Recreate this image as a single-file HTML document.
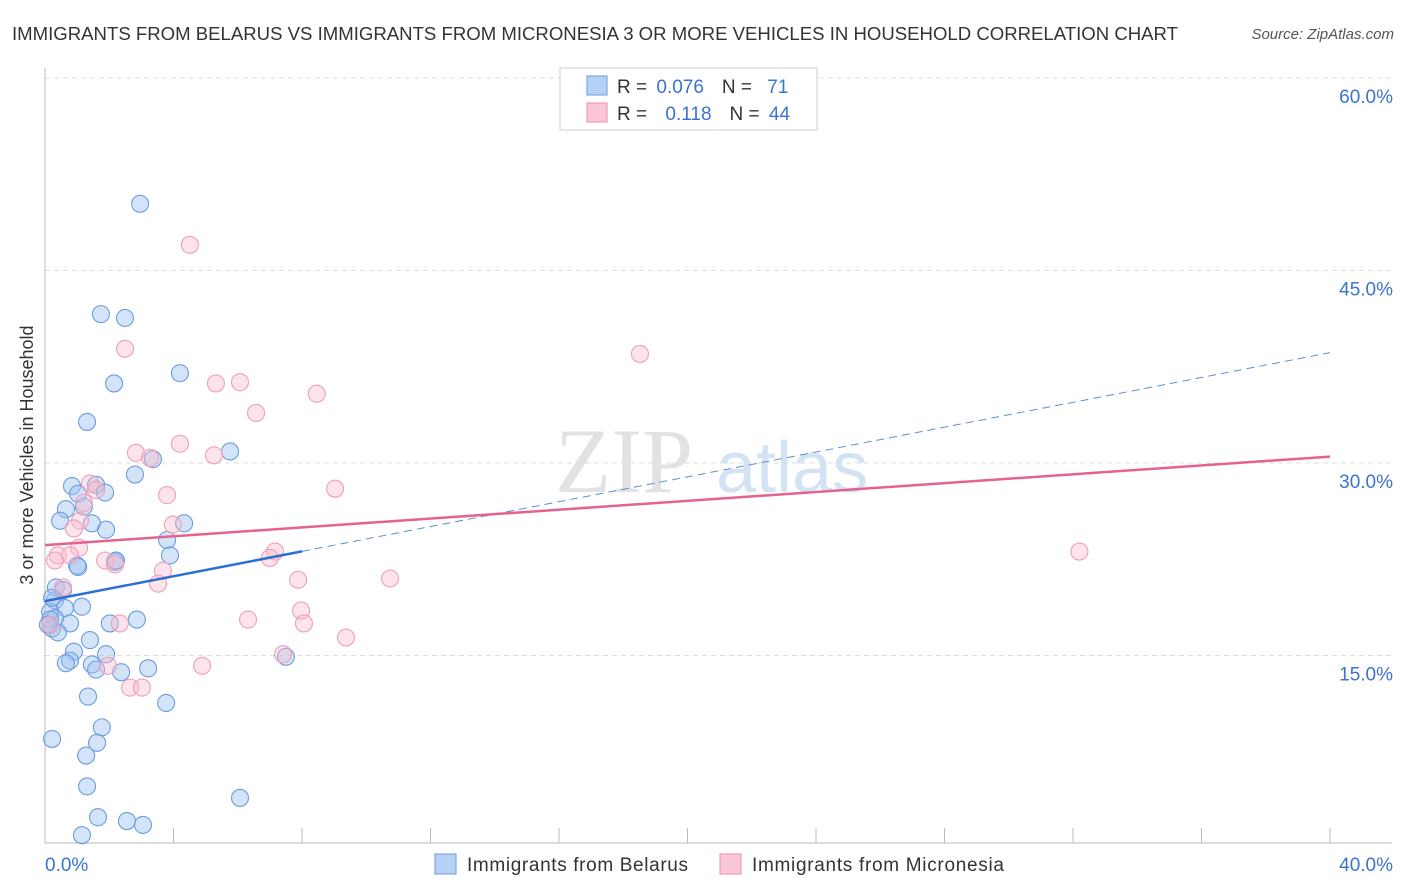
<!DOCTYPE html>
<html><head><meta charset="utf-8">
<style>
body{margin:0;background:#fff;font-family:"Liberation Sans",sans-serif;}
#wrap{position:relative;width:1406px;height:892px;overflow:hidden;}
</style></head>
<body>
<div id="wrap">
<svg id="svg" width="1406" height="892" xmlns="http://www.w3.org/2000/svg">
<text x="12" y="40" font-size="18" fill="#333" textLength="1166" lengthAdjust="spacingAndGlyphs">IMMIGRANTS FROM BELARUS VS IMMIGRANTS FROM MICRONESIA 3 OR MORE VEHICLES IN HOUSEHOLD CORRELATION CHART</text>
<text x="1394" y="39" font-size="15" fill="#555" font-style="italic" text-anchor="end">Source: ZipAtlas.com</text>
<text transform="translate(33,455) rotate(-90)" font-size="18" fill="#333" text-anchor="middle">3 or more Vehicles in Household</text>
<g>
<text x="555" y="492" font-size="92" fill="#e2e2e2" font-family="Liberation Serif,serif">ZIP</text>
<text x="716" y="492" font-size="72" fill="#d4e3f3">atlas</text>
</g>
<g id="grid"></g>
<g id="axes"></g>
<g id="pts"></g>
<g id="lines"></g>
<g>
<rect x="560" y="68" width="257" height="62" fill="#fff" stroke="#ccc"/>
<rect x="587" y="76" width="20" height="19" fill="#b6d1f5" stroke="#6a9de0"/>
<rect x="587" y="103" width="20" height="19" fill="#fbc7d6" stroke="#ea8fab"/>
<text x="617" y="93" font-size="19" fill="#333">R = <tspan fill="#3b73d1" dx="4">0.076</tspan><tspan fill="#333" dx="18">N = </tspan><tspan fill="#3b73d1" dx="10">71</tspan></text>
<text x="617" y="120" font-size="19" fill="#333">R = <tspan fill="#3b73d1" dx="13">0.118</tspan><tspan fill="#333" dx="18">N = </tspan><tspan fill="#3b73d1" dx="4">44</tspan></text>
</g>
<g>
<rect x="435" y="854" width="21" height="20" fill="#b6d1f5" stroke="#6a9de0"/>
<text x="467" y="871" font-size="19" fill="#333" textLength="221">Immigrants from Belarus</text>
<rect x="720" y="854" width="21" height="20" fill="#fbc7d6" stroke="#ea8fab"/>
<text x="752" y="871" font-size="19" fill="#333" textLength="252">Immigrants from Micronesia</text>
</g>
</svg>
</div>
<script>
const yTicks=[15,30,45,60];
const xTickLabels=["0.0%","40.0%"];
const belarusX=[2.96,1.74,2.49,2.15,4.20,1.31,5.76,3.36,2.80,0.84,1.59,1.87,1.03,1.21,0.65,0.47,1.46,1.90,4.33,3.80,3.89,1.00,2.18,1.03,0.34,0.56,0.31,1.15,0.62,0.16,0.31,2.86,2.02,0.78,0.22,0.40,1.40,3.21,0.90,1.90,0.78,0.65,1.46,1.59,2.37,7.50,1.34,3.77,1.77,0.22,1.62,1.28,1.31,6.07,1.65,2.55,3.05,1.15,2.21,0.16,0.09,0.22];
const belarusY=[50.2,41.6,41.3,36.2,37.0,33.2,30.9,30.3,29.1,28.2,28.3,27.7,27.6,26.6,26.4,25.5,25.3,24.8,25.3,24.0,22.8,22.0,22.3,21.9,20.3,20.1,19.3,18.8,18.7,18.4,17.9,17.8,17.5,17.5,17.1,16.8,16.2,14.0,15.3,15.1,14.6,14.4,14.3,13.9,13.7,14.9,11.8,11.3,9.4,8.5,8.2,7.2,4.8,3.9,2.4,2.1,1.8,1.0,22.4,17.8,17.4,19.5];
const microX=[4.51,2.49,18.52,5.32,6.07,8.46,6.57,4.20,2.83,3.27,5.26,9.03,1.40,1.59,3.80,1.21,1.09,0.90,3.98,1.06,32.2,7.16,7.00,0.40,0.78,0.31,1.87,2.18,3.67,10.74,7.88,3.52,0.56,7.97,8.06,6.32,2.33,9.37,7.41,4.89,1.96,2.65,3.02,0.16];
const microY=[47.0,38.9,38.5,36.2,36.3,35.4,33.9,31.5,30.8,30.4,30.6,28.0,28.4,27.9,27.5,26.9,25.5,24.9,25.2,23.4,23.1,23.1,22.6,22.8,22.8,22.4,22.4,22.1,21.6,21.0,20.9,20.6,20.3,18.5,17.5,17.8,17.5,16.4,15.1,14.2,14.2,12.5,12.5,17.4];
const belarusTrend=[19.24,38.6];
const microTrend=[23.6,30.5];
const NS="http://www.w3.org/2000/svg";
const X=v=>45+v/40*1285;
const Y=v=>848-v/15*192.5;
function mk(tag,attrs,parent){const e=document.createElementNS(NS,tag);for(const k in attrs)e.setAttribute(k,attrs[k]);document.getElementById(parent).appendChild(e);return e;}
yTicks.forEach(t=>{
  const l=mk('line',{x1:45,x2:1392,y1:Y(t),y2:Y(t),stroke:'#ddd','stroke-dasharray':'5,4'},'grid');
  
  
  const tx=mk('text',{x:1393,y:Y(t)+25,'font-size':19,fill:'#3b73d1','text-anchor':'end'},'grid');
  tx.textContent=t.toFixed(1)+'%';
  
  
});
const ax=mk('line',{x1:45,x2:45,y1:68,y2:843,stroke:'#bbb'},'axes');


const bx=mk('line',{x1:45,x2:1392,y1:843,y2:843,stroke:'#bbb'},'axes');


for(let i=0;i<=10;i++){
  const t=mk('line',{x1:X(i*4),x2:X(i*4),y1:828,y2:843,stroke:'#bbb'},'axes');
  
  
}
[[0,'start',45],[40,'end',1393]].forEach((d,i)=>{
  const tx=mk('text',{x:d[2],y:871,'font-size':19,fill:'#3b73d1','text-anchor':d[1]},'axes');
  tx.textContent=xTickLabels[i];
  
  
});
belarusX.forEach((x,i)=>{
  const c=mk('circle',{cx:X(x),cy:Y(belarusY[i]),r:8.5,fill:'rgba(160,196,240,0.45)',stroke:'#6a9de0','stroke-width':1.1},'pts');
  
  
});
microX.forEach((x,i)=>{
  const c=mk('circle',{cx:X(x),cy:Y(microY[i]),r:8.5,fill:'rgba(250,185,205,0.4)',stroke:'#eea0b8','stroke-width':1.1},'pts');
  
  
});
const bAt=x=>belarusTrend[0]+(belarusTrend[1]-belarusTrend[0])*x/40;
const l1=mk('line',{x1:X(0),y1:Y(bAt(0)),x2:X(8),y2:Y(bAt(8)),stroke:'#2b6fd6','stroke-width':2.5},'lines');


const l2=mk('line',{x1:X(8),y1:Y(bAt(8)),x2:X(40),y2:Y(bAt(40)),stroke:'#5b8fd8','stroke-width':1,'stroke-dasharray':'8,5'},'lines');


const l3=mk('line',{x1:X(0),y1:Y(microTrend[0]),x2:X(40),y2:Y(microTrend[1]),stroke:'#e5628e','stroke-width':2.5},'lines');


</script>
</body></html>
